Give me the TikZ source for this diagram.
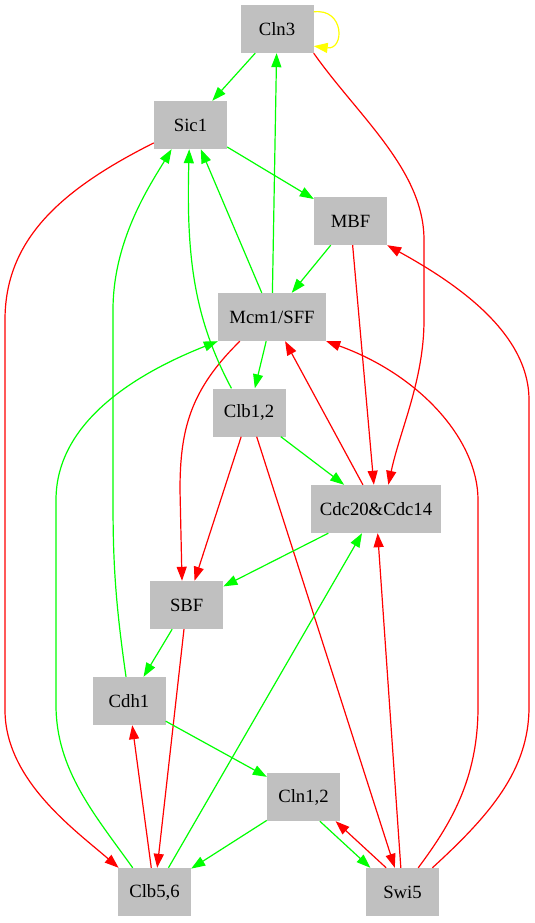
\documentclass[tikz,border=0pt]{standalone}
\usepackage{fontspec}
\setmainfont{Liberation Serif}
\usetikzlibrary{arrows.meta}
\definecolor{boxgray}{HTML}{C0C0C0}
\definecolor{actgreen}{HTML}{00FF00}
\definecolor{inhred}{HTML}{FF0000}
\definecolor{selfyel}{HTML}{FFFF00}

\begin{document}
\begin{tikzpicture}[x=1pt,y=-1pt,
    gene/.style={fill=boxgray,minimum width=73pt,minimum height=48pt,inner sep=0pt,font=\fontsize{18.7}{22}\selectfont},
    act/.style={actgreen,line width=1.2pt,-{Triangle[length=14pt,width=10pt]}},
    inh/.style={inhred,line width=1.2pt,-{Triangle[length=14pt,width=10pt]}},
    slf/.style={selfyel,line width=1.2pt,-{Triangle[length=14pt,width=10pt]}}]
        \useasboundingbox (0,0) rectangle (535,923);
        \node[gene] (cln3) at (277,29) {Cln3};
        \node[gene] (sic1) at (190.5,125) {Sic1};
        \node[gene] (mbf) at (350.5,221) {MBF};
        \node[gene,minimum width=108pt] (mcm) at (272,317) {Mcm1/SFF};
        \node[gene] (clb12) at (249,412.5) {Clb1,2};
        \node[gene,minimum width=130pt] (cdc) at (376,509) {Cdc20\&Cdc14};
        \node[gene] (sbf) at (186.7,605) {SBF};
        \node[gene] (cdh1) at (129,701) {Cdh1};
        \node[gene] (cln12) at (303.5,797) {Cln1,2};
        \node[gene] (clb56) at (154.5,892) {Clb5,6};
        \node[gene] (swi5) at (402.5,892) {Swi5};
        \draw[slf] (cln3.25) .. controls +(31,-4) and +(31,4) .. (cln3.-25);
        \draw[act] (cln3) -- (sic1);
        \draw[inh] (cln3.south east) .. controls (358,116) and (424,170) .. (424,240) -- (424,320) .. controls (424,380) and (400,430) .. (cdc.63);
        \draw[act] (sic1) -- (mbf);
        \draw[inh] (sic1.206) .. controls (60,190) and (5,240) .. (5,320) -- (5,710) .. controls (5,780) and (75,830) .. (clb56.146);
        \draw[act] (mbf) -- (mcm);
        \draw[inh] (mbf) -- (cdc);
        \draw[act] (mcm) -- (cln3);
        \draw[act] (mcm) -- (sic1);
        \draw[act] (mcm) -- (clb12);
        \draw[inh] (mcm.217) .. controls (190,390) and (180,430) .. (180,490) -- (sbf.101);
        \draw[act] (clb12.126) .. controls (195,320) and (186,260) .. (sic1.-93);
        \draw[act] (clb12) -- (cdc);
        \draw[inh] (clb12) -- (sbf);
        \draw[inh] (clb12) -- (swi5);
        \draw[inh] (cdc) -- (mcm);
        \draw[act] (cdc) -- (sbf);
        \draw[act] (sbf) -- (cdh1);
        \draw[inh] (sbf) -- (clb56);
        \draw[act] (cdh1.97) .. controls (115,600) and (113,560) .. (113,500) -- (113,310) .. controls (113,240) and (150,185) .. (sic1.-128);
        \draw[act] (cdh1) -- (cln12);
        \draw[act] (cln12) -- (clb56);
        \draw[act] (cln12.-56) -- (swi5.143);
        \draw[inh] (swi5.124) -- (cln12.-37);
        \draw[inh] (swi5) -- (cdc);
        \draw[inh] (swi5.57) .. controls (450,825) and (478,780) .. (478,707) -- (478,500) .. controls (478,440) and (420,375) .. (mcm.south east);
        \draw[inh] (swi5.39) .. controls (490,815) and (529,770) .. (529,707) -- (529,400) .. controls (529,330) and (450,280) .. (mbf.south east);
        \draw[inh] (clb56) -- (cdh1);
        \draw[act] (clb56.132) .. controls (95,815) and (56,770) .. (56,705) -- (56,500) .. controls (56,420) and (140,372) .. (mcm.south west);
        \draw[act] (clb56) -- (cdc);
      \end{tikzpicture}
\end{document}
